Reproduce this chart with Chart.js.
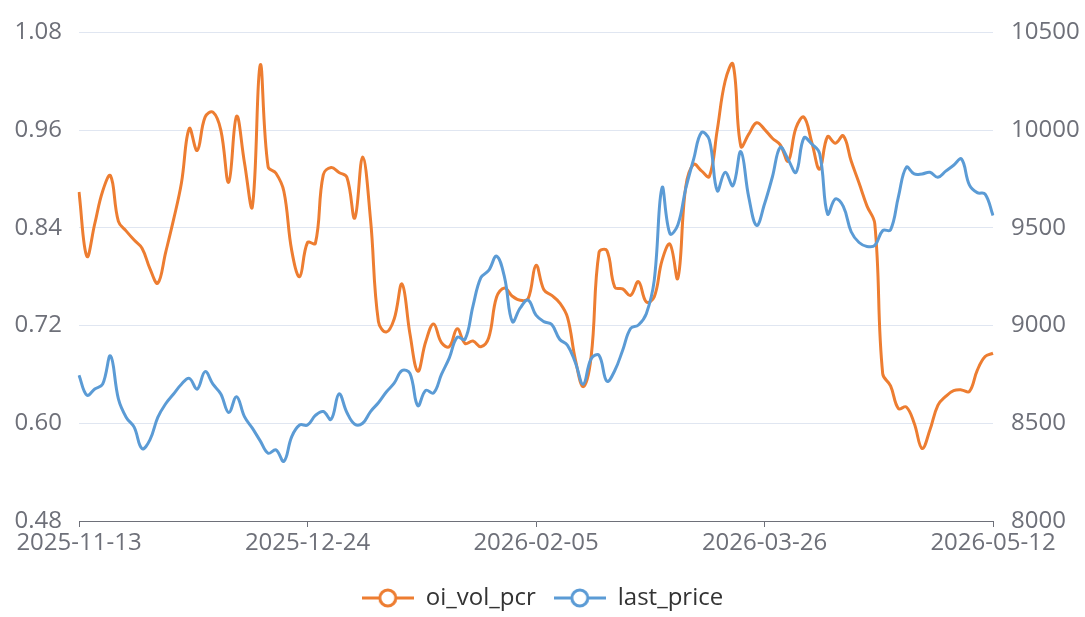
<!DOCTYPE html>
<html><head><meta charset="utf-8">
<script src="https://cdn.jsdelivr.net/npm/chart.js@4/dist/chart.umd.min.js"></script>
<style>html,body{margin:0;padding:0;background:#fff;}canvas{display:block;}</style>
</head><body>
<canvas id="c" width="1085" height="617" style="width:1085px;height:617px"></canvas>
<script>
const dates = [
'2025-11-13','2025-11-14','2025-11-17','2025-11-18','2025-11-19','2025-11-20','2025-11-21','2025-11-24','2025-11-25','2025-11-26','2025-11-27','2025-11-28',
'2025-12-01','2025-12-02','2025-12-03','2025-12-04','2025-12-05','2025-12-08','2025-12-09','2025-12-10','2025-12-11','2025-12-12','2025-12-15','2025-12-16','2025-12-17','2025-12-18','2025-12-19','2025-12-22','2025-12-23','2025-12-24','2025-12-25','2025-12-26','2025-12-29','2025-12-30','2025-12-31',
'2026-01-05','2026-01-06','2026-01-07','2026-01-08','2026-01-09','2026-01-12','2026-01-13','2026-01-14','2026-01-15','2026-01-16','2026-01-19','2026-01-20','2026-01-21','2026-01-22','2026-01-23','2026-01-26','2026-01-27','2026-01-28','2026-01-29','2026-01-30',
'2026-02-02','2026-02-03','2026-02-04','2026-02-05','2026-02-06','2026-02-09','2026-02-10','2026-02-11','2026-02-12','2026-02-13','2026-02-24','2026-02-25','2026-02-26','2026-02-27',
'2026-03-02','2026-03-03','2026-03-04','2026-03-05','2026-03-06','2026-03-09','2026-03-10','2026-03-11','2026-03-12','2026-03-13','2026-03-16','2026-03-17','2026-03-18','2026-03-19','2026-03-20','2026-03-23','2026-03-24','2026-03-25','2026-03-26','2026-03-27','2026-03-30','2026-03-31',
'2026-04-01','2026-04-02','2026-04-03','2026-04-07','2026-04-08','2026-04-09','2026-04-10','2026-04-13','2026-04-14','2026-04-15','2026-04-16','2026-04-17','2026-04-20','2026-04-21','2026-04-22','2026-04-23','2026-04-24','2026-04-27','2026-04-28','2026-04-29','2026-04-30',
'2026-05-06','2026-05-07','2026-05-08','2026-05-11','2026-05-12'
];
const oiVolPcr = [
0.884,0.805,0.845,0.885,0.904,0.848,0.836,0.825,0.815,0.790,
0.772,0.810,0.850,0.895,0.962,0.935,0.976,0.982,0.960,0.896,
0.977,0.920,0.866,1.040,0.915,0.907,0.885,0.812,0.780,0.822,
0.821,0.905,0.914,0.908,0.902,0.852,0.927,0.850,0.725,0.712,
0.728,0.771,0.710,0.664,0.700,0.722,0.699,0.694,0.716,0.698,
0.701,0.694,0.705,0.755,0.766,0.756,0.751,0.753,0.794,0.764,
0.757,0.748,0.730,0.678,0.645,0.682,0.810,0.812,0.767,0.765,
0.757,0.774,0.749,0.755,0.800,0.820,0.778,0.890,0.918,0.910,
0.903,0.960,1.020,1.041,0.940,0.955,0.969,0.961,0.950,0.942,
0.922,0.963,0.976,0.945,0.912,0.952,0.944,0.953,0.922,0.895,
0.867,0.845,0.661,0.646,0.618,0.620,0.600,0.569,0.592,0.622,
0.633,0.640,0.641,0.639,0.665,0.682,0.686
];
const lastPrice = [
8746,8644,8675,8700,8845,8625,8530,8480,8370,8415,
8530,8600,8650,8700,8730,8675,8764,8700,8650,8555,
8636,8534,8475,8410,8347,8364,8305,8432,8491,8491,
8540,8560,8520,8650,8555,8495,8500,8560,8605,8660,
8705,8770,8755,8590,8668,8655,8750,8835,8940,8930,
9100,9245,9282,9355,9248,9020,9090,9130,9053,9020,
9005,8930,8899,8810,8700,8830,8848,8715,8770,8874,
8985,9003,9061,9230,9705,9470,9515,9700,9850,9988,
9950,9690,9784,9716,9890,9657,9512,9622,9760,9912,
9850,9784,9960,9929,9880,9571,9648,9610,9480,9425,
9405,9410,9486,9490,9660,9810,9776,9776,9784,9759,
9790,9820,9852,9720,9680,9673,9563
];
const leftTicks = [0.48, 0.60, 0.72, 0.84, 0.96, 1.08];
const rightTicks = [8000, 8500, 9000, 9500, 10000, 10500];
const seriesNames = ['oi_vol_pcr', 'last_price'];
const labelEvery = 29;

const ORANGE = '#ED7D31', BLUE = '#5B9BD5', AXIS = '#6E7079', GRID = '#E0E6F1';
const FONT = "'Open Sans', 'Noto Sans', sans-serif";

function legendIcon(color) {
  const c = document.createElement('canvas');
  c.width = 52; c.height = 24;
  const g = c.getContext('2d');
  g.strokeStyle = color; g.lineWidth = 3;
  g.beginPath(); g.moveTo(0, 12); g.lineTo(52, 12); g.stroke();
  g.beginPath(); g.arc(26, 12, 8, 0, Math.PI * 2);
  g.fillStyle = '#fff'; g.fill(); g.stroke();
  return c;
}

const legendShift = {
  id: 'legendShift',
  afterLayout(chart) {
    const lg = chart.legend;
    if (!lg) return;
    const target = 598;
    const cur = lg.top + 18 + 12;
    const d = target - cur;
    lg.top += d; lg.bottom += d;
  }
};

new Chart(document.getElementById('c'), {
  type: 'line',
  data: {
    labels: dates,
    datasets: [
      {
        label: seriesNames[0], data: oiVolPcr, yAxisID: 'y',
        borderColor: ORANGE, backgroundColor: ORANGE, borderWidth: 3,
        pointRadius: 0, pointHoverRadius: 0, tension: 0.4, order: 2,
        pointStyle: legendIcon(ORANGE)
      },
      {
        label: seriesNames[1], data: lastPrice, yAxisID: 'y1',
        borderColor: BLUE, backgroundColor: BLUE, borderWidth: 3,
        pointRadius: 0, pointHoverRadius: 0, tension: 0.4, order: 1,
        pointStyle: legendIcon(BLUE)
      }
    ]
  },
  options: {
    responsive: false,
    animation: false,
    devicePixelRatio: 1,
    layout: { padding: { top: 29, left: 0, right: 0, bottom: 0 } },
    plugins: {
      tooltip: { enabled: false },
      legend: {
        position: 'bottom',
        labels: {
          usePointStyle: true,
          pointStyleWidth: 52,
          padding: 18,
          color: '#333',
          font: { family: FONT, size: 24 },
          sort: (a, b) => a.datasetIndex - b.datasetIndex
        }
      }
    },
    scales: {
      x: {
        type: 'category',
        offset: false,
        grid: {
          drawOnChartArea: false,
          drawTicks: true,
          tickLength: 6,
          color: ctx => (ctx.index % labelEvery === 0 ? AXIS : 'rgba(0,0,0,0)')
        },
        border: { display: true, color: AXIS, width: 1 },
        ticks: {
          autoSkip: false, maxRotation: 0, minRotation: 0, padding: 2,
          color: AXIS, font: { family: FONT, size: 24 },
          callback: (v, i) => (i % labelEvery === 0 ? dates[i] : '')
        },
        afterFit: s => { s.height = 44; }
      },
      y: {
        position: 'left',
        min: leftTicks[0], max: leftTicks[leftTicks.length - 1],
        afterBuildTicks: s => { s.ticks = leftTicks.map(v => ({ value: v })); },
        grid: { color: GRID, lineWidth: 1, drawTicks: false },
        border: { display: false },
        ticks: { padding: 17, color: AXIS, font: { family: FONT, size: 24 }, callback: v => Number(v).toFixed(2) },
        afterFit: s => { s.width = 79; }
      },
      y1: {
        position: 'right',
        min: rightTicks[0], max: rightTicks[rightTicks.length - 1],
        afterBuildTicks: s => { s.ticks = rightTicks.map(v => ({ value: v })); },
        grid: { drawOnChartArea: false, drawTicks: false },
        border: { display: false },
        ticks: { padding: 18, color: AXIS, font: { family: FONT, size: 24 }, callback: v => String(v) },
        afterFit: s => { s.width = 92; }
      }
    }
  },
  plugins: [legendShift]
});
</script>
</body></html>
